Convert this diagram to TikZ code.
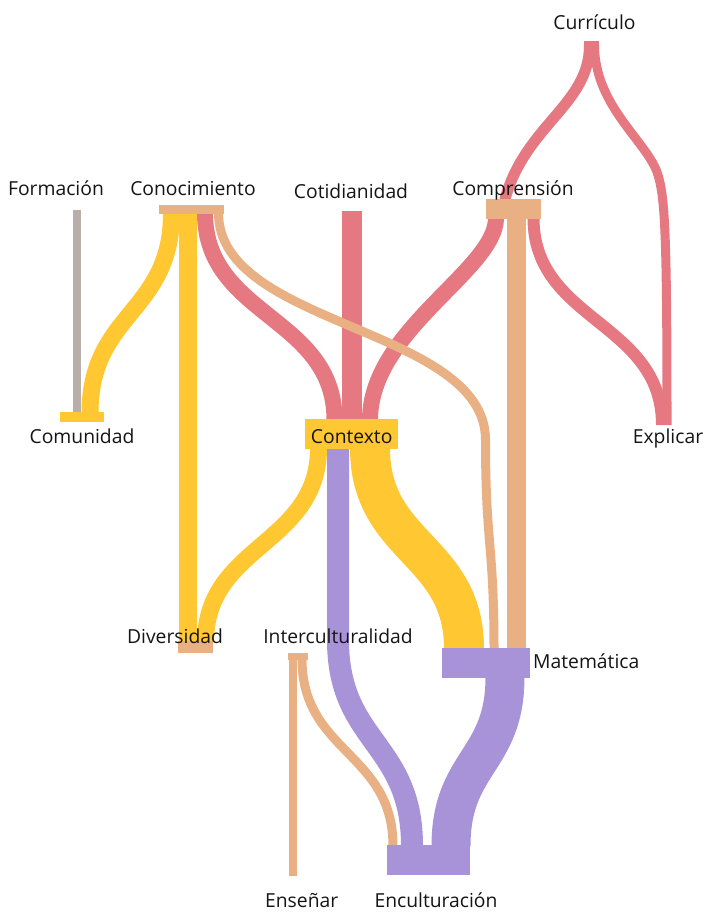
\documentclass[tikz,border=0pt]{standalone}
\usepackage{fontspec}
\setmainfont{Open Sans}
\usetikzlibrary{calc}

\definecolor{flowred}{HTML}{E57880}
\definecolor{flowyellow}{HTML}{FFC832}
\definecolor{flowpeach}{HTML}{E9B083}
\definecolor{flowpurple}{HTML}{A893D9}
\definecolor{flowgray}{HTML}{B8AEAA}

% vertical sankey link: cubic curve with both control points at mid height
\newcommand\vlink[3][]{%
  \coordinate (lnkmid) at ($(#2)!0.5!(#3)$);
  \draw[link,#1] (#2) .. controls (#2 |- lnkmid) and (#3 |- lnkmid) .. (#3);}

\begin{document}
\begin{tikzpicture}[x=1pt,y=-1pt,
  link/.style={line cap=butt, shorten <=-1pt, shorten >=-1pt},
  bar/.style={rectangle, inner sep=0pt, outer sep=0pt, draw=none},
  lbl/.style={font=\fontsize{19.3}{23}\selectfont, inner sep=0pt, anchor=base, text=black!92}]
\useasboundingbox (0,0) rectangle (704,912);

% ---------- ports where the links leave and enter the nodes ----------
\coordinate (formac) at (77,211);
\coordinate (cotid)  at (352,212);
\coordinate (explic) at (662,424);
\coordinate (explicB) at (667,424);
\coordinate (ensen)  at (293,875);

\coordinate (conoc-comun) at (171.5,214);
\coordinate (conoc-diver) at (188,214);
\coordinate (conoc-contx) at (205,214);
\coordinate (conoc-matem) at (218.5,214);

\coordinate (curric-compr)  at (589.5,46);
\coordinate (curric-explic) at (594.5,46);

\coordinate (compr-in)     at (505,199);
\coordinate (compr-contx)  at (496,219);
\coordinate (compr-matem)  at (516.5,219);
\coordinate (compr-explic) at (533.5,219);

\coordinate (comun-in0) at (77,412);
\coordinate (comun-in1) at (90,412);

\coordinate (contx-in1) at (334.5,419);
\coordinate (contx-in2) at (352,419);
\coordinate (contx-in3) at (370,419);
\coordinate (contx-diver) at (318.5,449);
\coordinate (contx-encul) at (338,449);
\coordinate (contx-matem) at (370,449);

\coordinate (diver-in1) at (188,641);
\coordinate (diver-in2) at (205.5,641);

\coordinate (matem-in1) at (464,648);
\coordinate (matem-in2) at (494,648);
\coordinate (matem-in3) at (516.5,648);
\coordinate (matem-encul) at (505,678);

\coordinate (inter-ensen) at (293,660);
\coordinate (inter-encul) at (302,660);

\coordinate (encul-in1) at (393,845);
\coordinate (encul-in2) at (412,845);
\coordinate (encul-in3) at (451,845);

% bends of the links that span two levels
\coordinate (bend-peach)  at (485.5,440);
\coordinate (bend-purple) at (338,640);
\coordinate (bend-red)    at (657,172);

% ---------- links ----------
\vlink[flowgray, line width=8pt]{formac}{comun-in0}
\vlink[flowyellow, line width=17pt]{conoc-comun}{comun-in1}
\vlink[flowyellow, line width=18pt]{conoc-diver}{diver-in1}
\vlink[flowred, line width=16pt]{conoc-contx}{contx-in1}
\vlink[flowred, line width=20pt]{cotid}{contx-in2}
\draw[link, flowred, line width=16pt] (compr-contx)
  .. controls (496,270) and (370,330) .. (contx-in3);

\draw[link, flowred, line width=11pt] (curric-compr)
  .. controls (589.5,105) and (525,125) .. (compr-in);
\draw[link, flowred, line width=9pt] (curric-explic)
  .. controls (594.5,105) and (645,140) .. (bend-red)
  .. controls (665,195) and (667,230) .. (explicB);
\vlink[flowred, line width=12pt]{compr-explic}{explic}

\vlink[flowpeach, line width=19pt]{compr-matem}{matem-in3}
\draw[link, flowpeach, line width=9pt] (conoc-matem)
  .. controls (218.5,327) and (485.5,327) .. (bend-peach)
  .. controls (485.5,544) and (494,544) .. (matem-in2);

\vlink[flowyellow, line width=17pt]{contx-diver}{diver-in2}
\vlink[flowyellow, line width=40pt]{contx-matem}{matem-in1}
\draw[link, flowpurple, line width=22pt] (contx-encul) -- (bend-purple)
  .. controls (338,742.5) and (412,742.5) .. (encul-in2);
\vlink[flowpurple, line width=39pt]{matem-encul}{encul-in3}

\vlink[flowpeach, line width=8pt]{inter-ensen}{ensen}
\vlink[flowpeach, line width=9pt]{inter-encul}{encul-in1}

% ---------- node bars ----------
\node[bar, fill=flowred,    minimum width=15pt, minimum height=5pt]  (curric) at (591.5,43.5) {};
\node[bar, fill=flowpeach,  minimum width=65pt, minimum height=9pt]  (conoc)  at (191.5,209.5) {};
\node[bar, fill=flowpeach,  minimum width=55pt, minimum height=20pt] (compr)  at (513.5,209) {};
\node[bar, fill=flowyellow, minimum width=44pt, minimum height=10pt] (comun)  at (82,417) {};
\node[bar, fill=flowyellow, minimum width=93pt, minimum height=30pt] (contx)  at (351.5,434) {};
\node[bar, fill=flowpeach,  minimum width=35pt, minimum height=12pt] (diver)  at (195.5,647) {};
\node[bar, fill=flowpurple, minimum width=88pt, minimum height=30pt] (matem)  at (486,663) {};
\node[bar, fill=flowpeach,  minimum width=20pt, minimum height=7pt]  (inter)  at (298,656.5) {};
\node[bar, fill=flowpurple, minimum width=83pt, minimum height=30pt] (encul)  at (428.5,860) {};

% ---------- labels ----------
\node[lbl] (t-curric) at (594.5,29.3) {Currículo};
\node[lbl] (t-formac) at (56,195) {Formación};
\node[lbl] (t-conoc)  at (193,195) {Conocimiento};
\node[lbl] (t-cotid)  at (351,198) {Cotidianidad};
\node[lbl] (t-compr)  at (513,195) {Comprensión};
\node[lbl] (t-comun)  at (82,443) {Comunidad};
\node[lbl] (t-contx)  at (351.7,443) {Contexto};
\node[lbl] (t-explic) at (668,443) {Explicar};
\node[lbl] (t-diver)  at (175,643) {Diversidad};
\node[lbl] (t-inter)  at (338,643) {Interculturalidad};
\node[lbl, anchor=base west] (t-matem) at (533,668) {Matemática};
\node[lbl] (t-ensen)  at (301.7,907.5) {Enseñar};
\node[lbl] (t-encul)  at (436,907.5) {Enculturación};
\end{tikzpicture}
\end{document}
